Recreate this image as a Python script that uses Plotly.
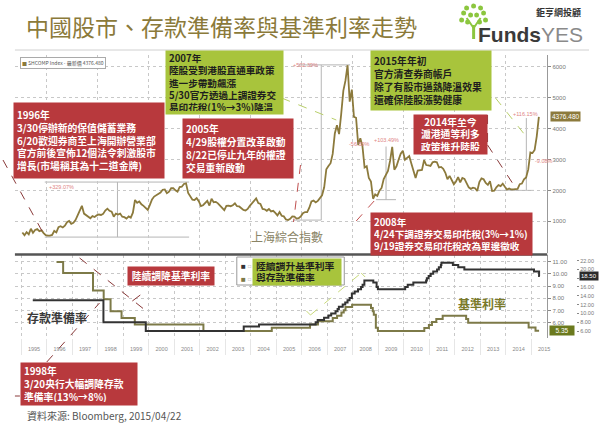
import plotly.graph_objects as go

W, H = 600, 426
CJK = "Noto Sans CJK TC"
LAT = "Liberation Sans"

# ---------------- data ----------------
# Shanghai Composite (SHCOMP), monthly readings Jan-1995 .. Apr-2015
shcomp_start_year = 1995
shcomp_monthly = [
    640, 550, 650, 580, 760, 630, 720, 750, 680, 715, 620, 555,          # 1995
    540, 535, 560, 690, 640, 810, 840, 800, 860, 970, 1010, 917,         # 1996
    950, 1040, 1190, 1380, 1500, 1250, 1200, 1150, 1100, 1170, 1140, 1195,  # 1997
    1220, 1205, 1240, 1350, 1410, 1340, 1310, 1150, 1250, 1220, 1250, 1150,  # 1998
    1135, 1090, 1160, 1120, 1280, 1690, 1600, 1640, 1550, 1500, 1440, 1370,  # 1999
    1530, 1710, 1800, 1840, 1890, 1930, 2020, 2030, 1910, 1960, 2070, 2070,  # 2000
    2000, 1960, 2110, 2120, 2210, 2230, 1920, 1830, 1700, 1690, 1750, 1650,  # 2001
    1490, 1520, 1580, 1660, 1510, 1730, 1620, 1630, 1580, 1500, 1430, 1360,  # 2002
    1500, 1510, 1490, 1520, 1580, 1490, 1480, 1420, 1370, 1350, 1400, 1500,  # 2003
    1590, 1680, 1740, 1590, 1560, 1400, 1390, 1340, 1400, 1320, 1340, 1270,  # 2004
    1190, 1300, 1180, 1160, 1060, 1040, 1080, 1160, 1155, 1090, 1100, 1160,  # 2005
    1260, 1300, 1300, 1440, 1640, 1670, 1610, 1660, 1750, 1840, 2100, 2680,  # 2006
    2790, 2880, 3180, 3840, 4110, 3820, 4470, 5220, 5550, 6050, 4870, 5260,  # 2007
    4380, 4350, 3470, 3690, 3430, 2740, 2780, 2400, 2290, 1730, 1870, 1820,  # 2008
    1990, 2080, 2370, 2480, 2630, 2960, 3410, 2670, 2780, 2990, 3190, 3280,  # 2009
    2990, 3050, 3110, 2870, 2590, 2400, 2640, 2640, 2660, 2980, 2820, 2810,  # 2010
    2790, 2910, 2930, 2910, 2740, 2760, 2700, 2570, 2360, 2470, 2330, 2200,  # 2011
    2290, 2430, 2260, 2400, 2370, 2230, 2100, 2050, 2090, 2070, 1980, 2270,  # 2012
    2390, 2360, 2240, 2180, 2300, 1980, 1990, 2100, 2170, 2140, 2220, 2120,  # 2013
    2030, 2060, 2030, 2030, 2040, 2050, 2200, 2220, 2360, 2420, 2680, 3230,  # 2014
    3210, 3310, 3750, 4376.48,                                           # 2015
]
shcomp_x = [shcomp_start_year + (i + 0.5) / 12 for i in range(len(shcomp_monthly))]

# Reserve requirement ratio (%), change dates as decimal years
rrr_dates = [1995.45, 1998.22, 1999.88, 2003.72, 2004.32, 2006.54, 2006.62, 2006.87,
             2007.04, 2007.15, 2007.32, 2007.40, 2007.45, 2007.60, 2007.70, 2007.79,
             2007.87, 2007.96, 2008.07, 2008.20, 2008.32, 2008.38, 2008.45, 2008.80,
             2008.93, 2008.98, 2010.05, 2010.15, 2010.37, 2010.87, 2010.90, 2010.97,
             2011.05, 2011.15, 2011.30, 2011.37, 2011.45, 2011.47, 2011.92, 2012.13,
             2012.37, 2015.10, 2015.30, 2015.33]
rrr_vals = [13, 8, 6, 7, 7.5, 8, 8.5, 9,
            9.5, 10, 10.5, 11, 11.5, 12, 12.5, 13,
            13.5, 14.5, 15, 15.5, 16, 16.5, 17.5, 17,
            16, 15.5, 16, 16.5, 17, 17.5, 18, 18.5,
            19, 19.5, 20, 20.5, 21, 21.5, 21, 20.5,
            20, 19.5, 18.5, 18.5]

# Benchmark 1-year lending rate (%)
rate_dates = [1996.38, 1996.64, 1997.81, 1998.23, 1998.50, 1998.93, 1999.45, 2002.14,
              2004.82, 2006.32, 2006.63, 2007.21, 2007.38, 2007.55, 2007.64, 2007.71,
              2007.97, 2008.71, 2008.78, 2008.82, 2008.90, 2008.98, 2010.80, 2010.98,
              2011.10, 2011.27, 2011.52, 2012.44, 2012.52, 2014.89, 2015.16, 2015.30]
rate_vals = [10.98, 10.08, 8.64, 7.92, 6.93, 6.39, 5.85, 5.31,
             5.58, 5.85, 6.12, 6.39, 6.57, 6.84, 7.02, 7.29,
             7.47, 7.20, 6.93, 6.66, 5.58, 5.31, 5.56, 5.81,
             6.06, 6.31, 6.56, 6.31, 6.00, 5.60, 5.35, 5.35]

year_labels = [str(y) for y in range(1995, 2016)]
stock_ticks = [1000, 2000, 3000, 4000, 5000, 6000]
rate_ticks = [6, 7, 8, 9, 10, 11]
rrr_ticks = [6, 8, 10, 12, 14, 16, 18, 20, 22]
last_shcomp = 4376.48
last_rrr = 18.50
last_rate = 5.35

# ---------------- style ----------------
STOCK_C = "#8c7a3c"
RRR_C = "#333333"
RATE_C = "#7d7a48"
RED = "#b8393d"
GREEN = "#a8c43c"
GRID = "#c8c8c8"

X0, X1 = 15, 550           # plot left/right in px
XR = [1994.75, 2015.62]


def px(x):
    return x / W


def py(y):
    return 1 - y / H


fig = go.Figure()
fig.add_trace(go.Scatter(x=shcomp_x, y=shcomp_monthly, mode="lines",
                         line=dict(color=STOCK_C, width=1.8), xaxis="x", yaxis="y",
                         showlegend=False, hoverinfo="skip"))
fig.add_trace(go.Scatter(x=rrr_dates, y=rrr_vals, mode="lines", line_shape="hv",
                         line=dict(color=RRR_C, width=2), xaxis="x2", yaxis="y3",
                         showlegend=False, hoverinfo="skip"))
fig.add_trace(go.Scatter(x=rate_dates, y=rate_vals, mode="lines", line_shape="hv",
                         line=dict(color=RATE_C, width=2), xaxis="x2", yaxis="y2",
                         showlegend=False, hoverinfo="skip"))

tickfont = dict(family=LAT, size=6, color="#777")

fig.update_layout(
    width=W, height=H, margin=dict(l=0, r=0, t=0, b=0),
    paper_bgcolor="white", plot_bgcolor="white",
    xaxis=dict(domain=[px(X0), px(X1)], range=XR, anchor="y",
               tickvals=list(range(1996, 2016, 2)), showticklabels=False, ticks="",
               showgrid=True, gridcolor=GRID, griddash="dot", gridwidth=1,
               zeroline=False, showline=False),
    yaxis=dict(domain=[py(253), py(55)], range=[-25, 6380], anchor="x", side="right",
               tickvals=stock_ticks, ticks="outside", ticklen=3, tickcolor="#888",
               tickfont=tickfont, showgrid=True, gridcolor=GRID, griddash="dot",
               zeroline=False, showline=True, linecolor="#999", linewidth=1),
    xaxis2=dict(domain=[px(X0), px(X1)], range=XR, anchor="y2",
                tickvals=[y + 0.5 for y in range(1995, 2016)], ticktext=year_labels,
                ticks="", tickfont=dict(family=LAT, size=5.5, color="#888"),
                ticklabelstandoff=6, showgrid=False, zeroline=False, showline=False,
                minor=dict(tickvals=list(range(1995, 2017)), ticks="outside", ticklen=16,
                           tickcolor="#e6e6e6", showgrid=True, gridcolor=GRID,
                           griddash="dot")),
    yaxis2=dict(domain=[py(338), py(255)], range=[4.746, 11.55], anchor="x2", side="right",
                tickvals=rate_ticks, ticktext=["%.2f" % v for v in rate_ticks],
                ticks="outside", ticklen=3, tickcolor="#888", tickfont=tickfont,
                showgrid=True, gridcolor=GRID, griddash="dot", zeroline=False,
                showline=True, linecolor="#999"),
    yaxis3=dict(range=[4.41, 23.27], overlaying="y2", side="right", anchor="free",
                position=px(579), tickvals=rrr_ticks,
                # the 18.00 label sits under the 18.50 last-value tag
                ticktext=["" if v == 18 else "%.2f" % v for v in rrr_ticks],
                ticks="outside", ticklen=2,
                tickcolor="#888", tickfont=dict(family=LAT, size=5.5, color="#777"),
                showgrid=False, zeroline=False, showline=False),
)

shapes = []
ann = []


def seg(x0, y0, x1, y1, color, dash="dash", width=1):
    shapes.append(dict(type="line", xref="paper", yref="paper", x0=px(x0), y0=py(y0),
                       x1=px(x1), y1=py(y1), line=dict(color=color, width=width, dash=dash),
                       layer="above"))


def dseg(x0, y0, x1, y1, color="#b5b5b5", width=1):
    shapes.append(dict(type="line", xref="x", yref="y", x0=x0, y0=y0, x1=x1, y1=y1,
                       line=dict(color=color, width=width), layer="below"))


def box(x0, y0, w, h, text, bg, color, align="left", size=10, bold=True):
    ann.append(dict(xref="paper", yref="paper", x=px(x0), y=py(y0), xanchor="left",
                    yanchor="top", width=w - 6, height=h - 6, borderpad=3,
                    text=("<b>%s</b>" % text) if bold else text, bgcolor=bg,
                    font=dict(family=CJK, size=size, color=color), align=align,
                    valign="middle", showarrow=False))


def label(x, y, text, size, color, family=CJK, xanchor="left", bold=False):
    ann.append(dict(xref="paper", yref="paper", x=px(x), y=py(y), xanchor=xanchor,
                    yanchor="middle", text=("<b>%s</b>" % text) if bold else text,
                    font=dict(family=family, size=size, color=color), showarrow=False))


# title + logo
label(24, 26, "中國股市、存款準備率與基準利率走勢", 23, "#8b7a3a")
seg(15, 50, 592, 50, "#d0d0d0", dash="solid", width=1)
TREE = "#8cc63f"
seg(476, 39, 476, 25, TREE, dash="solid", width=3)
seg(476, 28, 469, 18, TREE, dash="solid", width=2)
seg(476, 28, 483, 18, TREE, dash="solid", width=2)
for cx, cy in [(466, 13), (469, 8), (473, 15), (476, 6), (479, 15), (483, 8), (486, 13),
               (464, 20), (488, 20), (470, 22), (482, 22)]:
    shapes.append(dict(type="circle", xref="paper", yref="paper", x0=px(cx - 2.5),
                       x1=px(cx + 2.5), y0=py(cy + 2.5), y1=py(cy - 2.5),
                       fillcolor=TREE, line=dict(width=0)))
label(586, 13, "鉅亨網投顧", 9, "#333", xanchor="right", bold=True)
ann.append(dict(xref="paper", yref="paper", x=px(588), y=py(35), xanchor="right",
                yanchor="middle", showarrow=False,
                text="<b>Funds</b><span style='color:#8a8a8a'>YES</span>",
                font=dict(family=LAT, size=21, color="#3a3a3a")))

# panel frame line between panels
seg(X0, 254.5, X1, 254.5, "#555", dash="solid", width=2.5)

# Bloomberg measure lines (data coords)
dseg(1995.92, 2270, 2001.58, 2270)
dseg(1995.92, 490, 2001.58, 490)
dseg(1998.77, 490, 1998.77, 2270)
dseg(2005.67, 1040, 2006.76, 1040)
dseg(2006.76, 1040, 2006.76, 6060)
dseg(2005.87, 6060, 2007.89, 6060)
dseg(2008.91, 1700, 2009.69, 1700)
dseg(2009.30, 1700, 2009.30, 3420)
dseg(2013.60, 2000, 2015.10, 2000)
dseg(2014.80, 2000, 2014.80, 4340)

MC = "#e08585"
for x, y, t, xa in [(1996.0, 2120, "+329.07%", "left"), (2006.70, 6060, "+502.39%", "right"),
                    (2007.75, 3500, "-56.59%", "left"), (2009.30, 3640, "+103.49%", "center"),
                    (2014.75, 4480, "+116.15%", "center"), (2015.05, 2950, "-9.08%", "left")]:
    ann.append(dict(xref="x", yref="y", x=x, y=y, xanchor=xa, yanchor="middle",
                    text=t, showarrow=False, font=dict(family=LAT, size=5.5, color=MC)))

# SHCOMP legend box
ann.append(dict(xref="paper", yref="paper", x=px(20), y=py(57), xanchor="left",
                yanchor="top", showarrow=False, bgcolor="white", bordercolor="#aaa",
                borderwidth=1, borderpad=1,
                text="<span style='color:%s'>■</span> SHCOMP Index - 最新價 4376.480" % STOCK_C,
                font=dict(family=CJK, size=5, color="#555")))

# last-value tags
ann.append(dict(xref="paper", yref="y", x=px(553), y=last_shcomp, xanchor="left",
                yanchor="middle", text="%.3f" % last_shcomp, showarrow=False,
                bgcolor=STOCK_C, borderpad=1, font=dict(family=LAT, size=6.5, color="white")))
ann.append(dict(xref="paper", yref="y3", x=px(582), y=last_rrr, xanchor="left",
                yanchor="middle", text="%.2f" % last_rrr, showarrow=False,
                bgcolor="#2a2a2a", borderpad=1, font=dict(family=LAT, size=6, color="white")))
ann.append(dict(xref="paper", yref="y2", x=px(552), y=last_rate, xanchor="left",
                yanchor="middle", text="%.2f" % last_rate, showarrow=False, width=22,
                bgcolor="#6b7a1e", borderpad=1, font=dict(family=LAT, size=6.5, color="white")))

# connectors (dashed callout lines)
DR = "#8a3a3a"
seg(3, 160, 45, 236, DR)
seg(283, 98, 338, 120, "#b9cf6a")
seg(302, 165, 295, 222, "#c05050")
seg(358, 221, 376, 201, "#c05050")
seg(490, 115, 490, 145, DR)
seg(490, 145, 515, 183, DR)
seg(498, 98, 530, 138, "#b9cf6a")
seg(80, 258, 147, 311, DR)
seg(133, 301, 141, 295, DR, dash="solid")
seg(47, 362, 100, 303, DR)
seg(312, 315, 363, 273, "#c9da7a")
seg(312, 315, 308, 311, "#c9da7a", dash="solid")
seg(363, 273, 367, 277, "#c9da7a", dash="solid")

# callout boxes
box(13, 102, 150, 75, "1996年<br>3/30停辦新的保值儲蓄業務<br>6/20歡迎券商至上海開辦營業部"
    "<br>官方前後宣佈12個法令刺激股市<br>增長(市場稱其為十二道金牌)", RED, "white", size=9.8)
box(166, 50, 117, 63, "2007年<br>陸股受到港股直通車政策<br>進一步帶動飆漲<br>5/30官方透過上調證券交"
    "<br>易印花稅(1%→3%)降溫", GREEN, "#1e1e1e", size=9.6)
box(183, 118, 110, 59, "2005年<br>4/29股權分置改革啟動<br>8/22已停止九年的權證<br>交易重新啟動",
    RED, "white", size=9.8)
box(372, 50, 120, 59, "2015年年初<br>官方清查券商帳戶<br>除了有股市過熱降溫效果<br>還確保陸股漲勢健康",
    GREEN, "#1e1e1e", size=9.8)
box(415, 114, 73, 39, "2014年至今<br>滬港通等利多<br>政策推升陸股", RED, "white",
    align="center", size=9.8)
box(372, 212, 161, 42, "2008年<br>4/24下調證券交易印花稅(3%→1%)<br>9/19證券交易印花稅改為單邊徵收",
    RED, "white", size=9.6)
box(128, 266, 86, 18, "陸續調降基準利率", RED, "white", align="center", size=9.8)
shapes.append(dict(type="rect", xref="paper", yref="paper", x0=px(238), x1=px(346),
                   y0=py(285), y1=py(257), fillcolor="white", line=dict(color="#999", width=1)))
label(240, 266, "■", 8, RRR_C, family=LAT)
label(240, 279, "■", 8, RATE_C, family=LAT)
label(247, 266, "□", 5, "#999", family=LAT)
label(247, 279, "□", 5, "#999", family=LAT)
box(253, 258, 88, 26, "陸續調升基準利率<br>與存款準備率", GREEN, "#1e1e1e", size=9.8)
box(20, 362, 116, 42, "1998年<br>3/20央行大幅調降存款<br>準備率(13%→8%)", RED, "white", size=9.8)
seg(15, 396, 20, 396, DR)

# free labels
label(25, 317, "存款準備率", 12, "#3a3a3a", bold=True)
label(458, 303, "基準利率", 12, "#7a7a2a", bold=True)
label(250, 236, "上海綜合指數", 12, "#8a8466")
label(25, 415, "資料來源: Bloomberg, 2015/04/22", 10, "#555")

fig.update_layout(shapes=shapes, annotations=ann)
fig.write_html("out.html", config={"displayModeBar": False},
               post_script="document.body.style.margin='0';document.body.style.padding='0';")
